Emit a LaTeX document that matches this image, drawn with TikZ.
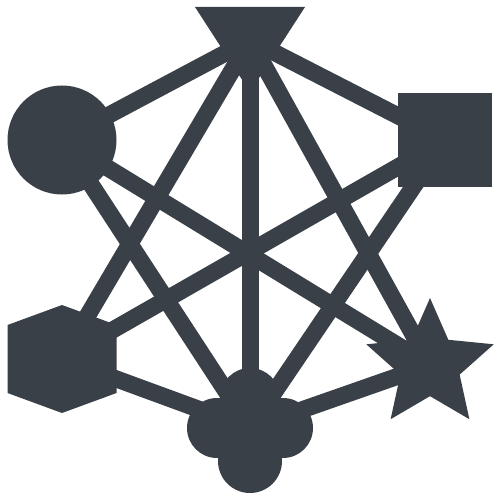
\documentclass[tikz,border=0pt]{standalone}
\usepackage{tikz}
\usetikzlibrary{shapes.geometric}
\definecolor{slate}{HTML}{3A4048}
\tikzset{
  shp/.style={fill=slate, draw=none, inner sep=0pt},
  link/.style={draw=slate, line width=17pt},
}

\begin{document}
\begin{tikzpicture}[x=1pt, y=-1pt]
    \useasboundingbox (0,0) rectangle (500,500);
    \coordinate (t) at (250, 40);
    \coordinate (h) at (62, 359);
    \coordinate (k) at (250, 428);
    \node[shp, circle, minimum size=109pt] (c) at (62, 140) {};
    \node[shp, rectangle, minimum size=94pt] (s) at (445, 140) {};
    \node[shp, star, star points=5, star point ratio=2.15, minimum size=134pt] (r) at (430, 365) {};
    % triangle on top
    \fill[shp] (195, 7) -- (305, 7) -- (250, 92) -- cycle;
    % hexagon
    \fill[shp] (h) ++(-54.5,-34) -- ++(54.5,-20) -- ++(54.5,20) -- ++(0,68)
      -- ++(-54.5,20) -- ++(-54.5,-20) -- cycle;
    % cloud
    \fill[shp] (k) circle (30);
    \fill[shp] (k) ++(0,-30) circle (30);
    \fill[shp] (k) ++(-33,0) circle (30);
    \fill[shp] (k) ++(33,0) circle (30);
    \fill[shp] (k) ++(0,33) circle (32);
    \draw[link] (t) -- (c.center);
    \draw[link] (t) -- (s.center);
    \draw[link] (t) -- (h);
    \draw[link] (t) -- (r.center);
    \draw[link] (t) -- (k);
    \draw[link] (c.center) -- (r.center);
    \draw[link] (c.center) -- (k);
    \draw[link] (s.center) -- (h);
    \draw[link] (s.center) -- (k);
    \draw[link] (h) -- (k);
    \draw[link] (r.center) -- (k);
\end{tikzpicture}
\end{document}
